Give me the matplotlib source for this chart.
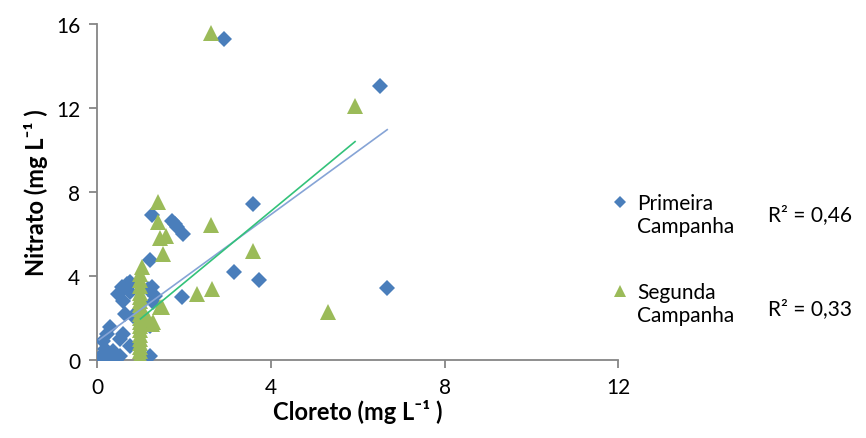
import numpy as np
import matplotlib
matplotlib.use("Agg")
import matplotlib.pyplot as plt
from matplotlib.lines import Line2D
from matplotlib.legend_handler import HandlerLine2D

plt.rcParams['font.family'] = ['Lato', 'DejaVu Sans']

# Primeira Campanha
cloreto_1 = [2.93, 6.52, 3.60, 3.16, 3.73, 6.68, 1.96, 1.98, 1.27, 1.73, 1.80, 1.84,
             1.22, 0.58, 0.48, 0.69, 0.76, 0.60, 0.65, 0.83, 0.30, 0.23, 0.14, 0.53,
             0.60, 0.18, 0.37, 0.10, 0.30, 0.53, 0.14, 0.76, 1.22, 1.22, 1.30, 1.18,
             0.76, 1.27, 1.34, 0.05, 0.45, 0.40]
nitrato_1 = [15.29, 13.05, 7.43, 4.19, 3.81, 3.43, 3.00, 6.00, 6.90, 6.62, 6.48, 6.33,
             4.76, 3.47, 3.14, 3.62, 3.24, 2.80, 2.19, 2.10, 1.57, 1.24, 0.90, 1.00,
             1.24, 0.52, 0.43, 0.19, 0.14, 0.19, 0.00, 0.67, 0.19, 1.60, 2.76, 3.38,
             3.70, 3.47, 3.05, 0.05, 0.05, 0.30]

# Segunda Campanha
cloreto_2 = [2.63, 5.94, 2.63, 3.60, 2.65, 2.30, 5.32, 1.41, 1.41, 1.45, 1.59, 1.52,
             1.04, 1.45, 1.18, 1.27, 1.30, 1.50,
             1.00, 1.00, 1.00, 1.00, 1.00, 1.00, 1.00, 1.00, 1.00, 1.00, 1.00, 1.00,
             1.00, 1.00, 1.00, 1.00, 1.00, 1.00, 1.00, 1.00]
nitrato_2 = [15.57, 12.10, 6.43, 5.19, 3.38, 3.14, 2.29, 7.52, 6.57, 5.80, 5.90, 5.05,
             4.43, 2.52, 1.95, 1.71, 1.80, 2.52,
             0.00, 0.20, 0.40, 0.60, 0.80, 1.00, 1.20, 1.40, 1.60, 1.80, 2.00, 2.20,
             2.40, 2.60, 2.80, 3.00, 3.20, 3.50, 3.80, 4.10]

# linhas de tendencia (inclinacao, intercepto) e R2
tend_1 = (1.51, 0.88)
tend_2 = (1.71, 0.24)
r2_1 = "0,46"
r2_2 = "0,33"

azul = '#4A7EBB'
verde = '#9BBB59'


# marcador da legenda alinhado com a primeira linha do texto
class HandlerTopo(HandlerLine2D):
    def create_artists(self, legend, orig_handle, xdescent, ydescent, width, height,
                       fontsize, trans):
        arts = super().create_artists(legend, orig_handle, xdescent, ydescent, width,
                                      height, fontsize, trans)
        for a in arts:
            a.set_ydata(np.asarray(a.get_ydata()) + 0.62 * fontsize)
        return arts


fig = plt.figure(figsize=(8.66, 4.39), dpi=100)
ax = fig.add_axes([0.112, 0.178, 0.602, 0.765])

ax.plot(cloreto_1, nitrato_1, linestyle='none', marker='D', ms=8.5, color=azul,
        markeredgewidth=0, zorder=3)
ax.plot(cloreto_2, nitrato_2, linestyle='none', marker='^', ms=11, color=verde,
        markeredgewidth=0, zorder=3)

x1 = np.array([min(cloreto_1), max(cloreto_1)])
x2 = np.array([min(cloreto_2), max(cloreto_2)])
ax.plot(x1, tend_1[0] * x1 + tend_1[1], color='#86A4D6', lw=1.2, zorder=4)
ax.plot(x2, tend_2[0] * x2 + tend_2[1], color='#33C27A', lw=1.2, zorder=4)

ax.set_xlim(0, 12)
ax.set_ylim(0, 16)
ax.set_xticks([0, 4, 8, 12])
ax.set_yticks([0, 4, 8, 12, 16])
for s in ['top', 'right']:
    ax.spines[s].set_visible(False)
for s in ['left', 'bottom']:
    ax.spines[s].set_color('#868686')
    ax.spines[s].set_linewidth(1.3)
ax.tick_params(direction='out', length=6, width=1.3, color='#868686',
               labelsize=15, pad=6)

ax.set_xlabel('Cloreto (mg L⁻¹ )', fontsize=17, fontweight='bold', labelpad=2)
ax.set_ylabel('Nitrato (mg L⁻¹ )', fontsize=17, fontweight='bold', labelpad=6)

handles = [Line2D([], [], linestyle='none', marker='D', ms=6, color=azul, markeredgewidth=0),
           Line2D([], [], linestyle='none', marker='^', ms=8, color=verde, markeredgewidth=0)]
ax.legend(handles, ['Primeira\nCampanha', 'Segunda\nCampanha'], loc='center left',
          bbox_to_anchor=(0.972, 0.30), frameon=False, fontsize=15, handlelength=0.8,
          handletextpad=0.4, labelspacing=2.2, borderaxespad=0,
          handler_map={Line2D: HandlerTopo()})

fig.text(0.887, 0.51, 'R² = ' + r2_1, fontsize=15, va='center', ha='left')
fig.text(0.887, 0.295, 'R² = ' + r2_2, fontsize=15, va='center', ha='left')

fig.savefig('out.png', dpi=100)
